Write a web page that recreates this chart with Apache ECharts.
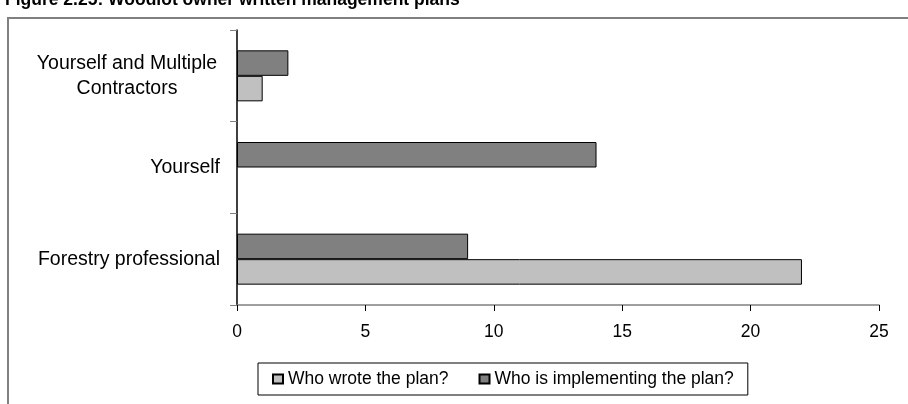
<!DOCTYPE html>
<html>
<head>
<meta charset="utf-8">
<script src="https://cdn.jsdelivr.net/npm/echarts@6/dist/echarts.min.js"></script>
<style>
  html, body { margin: 0; padding: 0; background: #fff; }
  #chart { width: 908px; height: 404px; }
</style>
</head>
<body>
<div id="chart"></div>
<script>
// Who prepared and who carries out woodlot owners' written management plans
const categories = ['Forestry professional', 'Yourself', 'Yourself and Multiple\nContractors'];
const wroteValues = [22, 0, 1];
const implementingValues = [9, 14, 2];
const seriesNames = ['Who wrote the plan?', 'Who is implementing the plan?'];
const xTicks = { min: 0, max: 25, interval: 5 };
const titleText = 'Figure 2.25: Woodlot owner written management plans';

const FONT = 'Liberation Sans, Arial, sans-serif';
const chart = echarts.init(document.getElementById('chart'), null, { renderer: 'canvas' });

const barStyle = (color) => ({ color: color, borderColor: '#000', borderWidth: 1 });
// zero-length bars get no outline so nothing is drawn for them
const barData = (values) => values.map(v => v === 0 ? { value: v, itemStyle: { borderWidth: 0 } } : v);

chart.setOption({
  animation: false,
  backgroundColor: '#fff',
  graphic: [
    {
      type: 'rect',
      shape: { x: 8, y: 18, width: 1000, height: 500 },
      style: { fill: 'none', stroke: '#808080', lineWidth: 2 },
      silent: true
    },
    {
      type: 'text',
      x: 5,
      y: 9,
      style: {
        text: titleText,
        font: 'bold 17.5px ' + FONT,
        fill: '#000',
        verticalAlign: 'bottom',
        align: 'left'
      },
      silent: true
    }
  ],
  grid: { left: 237, right: 29, top: 30, bottom: 99, containLabel: false },
  xAxis: {
    type: 'value',
    min: xTicks.min,
    max: xTicks.max,
    interval: xTicks.interval,
    splitLine: { show: false },
    axisLine: { show: true, lineStyle: { color: '#808080', width: 1.5 } },
    axisTick: { show: true, length: 6, lineStyle: { color: '#000' } },
    axisLabel: { color: '#000', fontFamily: FONT, fontSize: 17.5, margin: 18 }
  },
  yAxis: {
    type: 'category',
    data: categories,
    axisLine: { show: true, lineStyle: { color: '#000', width: 1.5 } },
    axisTick: { show: true, length: 7, lineStyle: { color: '#808080' } },
    axisLabel: {
      color: '#000',
      fontFamily: FONT,
      fontSize: 19.5,
      margin: 17,
      formatter: (v) => v.indexOf('\n') >= 0
        ? v.split('\n').map(s => '{c|' + s + '}').join('\n')
        : v,
      rich: {
        c: { width: 186, align: 'center', fontFamily: FONT, fontSize: 19.5, color: '#000', lineHeight: 25 }
      }
    }
  },
  legend: {
    data: seriesNames,
    left: 258,
    top: 363,
    orient: 'horizontal',
    itemWidth: 10,
    itemHeight: 9,
    itemGap: 30,
    padding: [7, 14, 7, 14],
    borderColor: '#000',
    borderWidth: 1,
    icon: 'rect',
    textStyle: { color: '#000', fontFamily: FONT, fontSize: 17.5 }
  },
  series: [
    {
      name: seriesNames[1],
      type: 'bar',
      data: barData(implementingValues),
      barWidth: 25.5,
      barGap: '0%',
      itemStyle: barStyle('#808080')
    },
    {
      name: seriesNames[0],
      type: 'bar',
      data: barData(wroteValues),
      barWidth: 25.5,
      barGap: '0%',
      itemStyle: barStyle('#c0c0c0')
    }
  ]
});
</script>
</body>
</html>
